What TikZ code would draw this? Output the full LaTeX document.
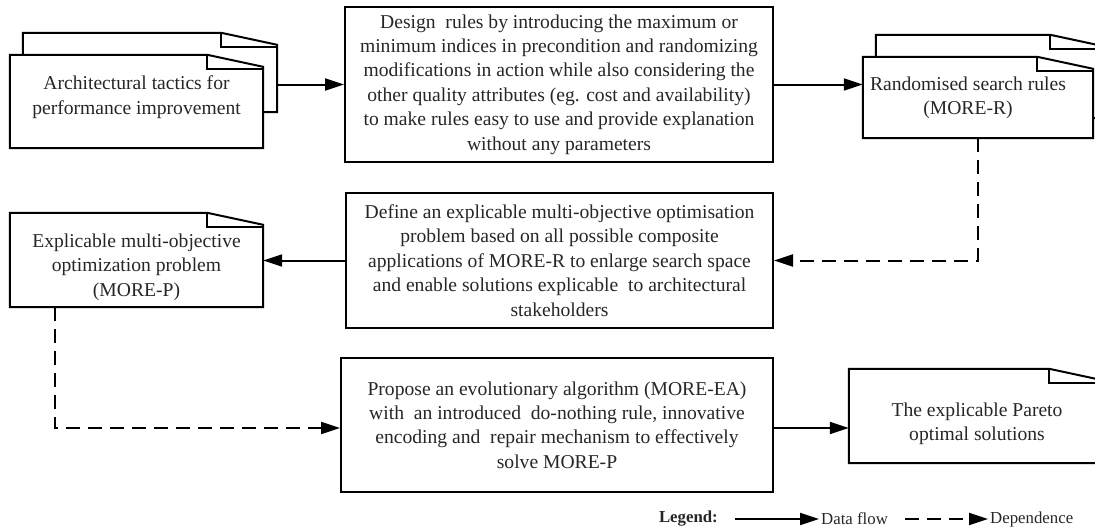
\documentclass[tikz,border=0pt]{standalone}
\usepackage{fontspec}
\setmainfont{Liberation Serif}
\usetikzlibrary{arrows.meta,calc}

% outline of a document shape with a folded top-right corner
\newcommand\docfront[1]{%
  \draw[docline] (#1.north west) -- ($(#1.north east)+(-56,0)$) coordinate (#1-f)
    -- ($(#1.north east)+(0,12)$) -- (#1.south east) -- (#1.south west) -- cycle;
  \draw[docline] (#1-f) -- ++(0,14) -- ($(#1.north east)+(0,14)$);}
% the visible part of a second sheet lying behind a document shape
\newcommand\docback[2]{%
  \draw[docline] (#1.north west -| #2.west) -- (#2.north west)
    -- ($(#2.north east)+(-56,0)$) coordinate (#2-f)
    -- ($(#2.north east)+(0,12)$) -- (#2.south east) -- (#2.south east -| #1.east);
  \draw[docline] (#2-f) -- ++(0,14) -- ($(#2.north east)+(0,14)$);}

\begin{document}
\begin{tikzpicture}[x=1pt,y=-1pt,
  every node/.style={text=black!85, font=\fontsize{19.6}{24.4}\selectfont,
    align=center, inner sep=0pt},
  procbox/.style={draw, line width=2pt, rectangle},
  docnode/.style={rectangle},
  docline/.style={line width=2pt, line join=miter},
  flow/.style={line width=2pt, -{Triangle[length=19pt,width=12pt]}},
  depend/.style={flow, dash pattern=on 14pt off 8pt},
  legendtext/.style={font=\fontsize{16.8}{19}\selectfont}]

\path[use as bounding box, clip] (0,0) rectangle (1095,530);

% process steps
\node[procbox, minimum width=428, minimum height=155] (b) at (559,84.5)
  {Design~ rules by introducing the maximum or\\
   minimum indices in precondition and randomizing\\
   modifications in action while also considering the\\
   other quality attributes (eg. cost and availability)\\
   to make rules easy to use and provide explanation\\
   without any parameters};
\node[procbox, minimum width=427, minimum height=135] (d) at (559.5,260.5)
  {Define an explicable multi-objective optimisation\\
   problem based on all possible composite\\
   applications of MORE-R to enlarge search space\\
   and enable solutions explicable~ to architectural\\
   stakeholders};
\node[procbox, minimum width=432, minimum height=134] (e) at (557,425)
  {Propose an evolutionary algorithm (MORE-EA)\\
   with~ an introduced~ do-nothing rule, innovative\\
   encoding and~ repair mechanism to effectively\\
   solve MORE-P};

% documents
\node[docnode, minimum width=254, minimum height=79] (a2) at (150,72.5) {};
\node[docnode, minimum width=253, minimum height=93] (a) at (136.5,101.5) {};
\node (at) at (136.5,97) {Architectural tactics for\\performance improvement};
\docfront{a}
\docback{a}{a2}

\node[docnode, minimum width=230, minimum height=83] (r2) at (991,76.5) {};
\node[docnode, minimum width=230, minimum height=81] (r) at (978,97.5) {};
\node (rt) at (968,98) {Randomised search rules\\(MORE-R)};
\docfront{r}
\docback{r}{r2}

\node[docnode, minimum width=253, minimum height=94] (p) at (136.5,260) {};
\node (pt) at (136.5,267) {Explicable multi-objective\\optimization problem\\(MORE-P)};
\docfront{p}

\node[docnode, minimum width=256, minimum height=94] (s) at (977,416) {};
\node (st) at (977,424) {The explicable Pareto\\optimal solutions};
\docfront{s}

% connectors
\draw[flow] (a2.east |- b.west) -- (b.west);
\draw[flow] (b.east) -- (b.east -| r.west);
\draw[depend] (r.south) |- (d.east);
\draw[flow] (d.west) -- (d.west -| p.east);
\coordinate (pout) at ($(p.south west)+(45,0)$);
\draw[depend] (pout) |- ($(e.west)+(0,3)$);
\draw[flow] ($(e.east)+(0,3)$) -- ($(e.east -| s.west)+(0,3)$);

% legend
\node[legendtext, font=\bfseries\fontsize{16.8}{19}\selectfont, anchor=east] (lg) at (718,519) {Legend:};
\coordinate (l1) at (735,519);
\node[legendtext, anchor=west, inner sep=2pt] (ldf) at (819,519) {Data flow};
\draw[flow] (l1) -- (ldf.west);
\coordinate (l2) at (905,519);
\node[legendtext, anchor=west, inner sep=2pt] (ldp) at (988,519) {Dependence};
\draw[depend] (l2) -- (ldp.west);
\end{tikzpicture}
\end{document}
